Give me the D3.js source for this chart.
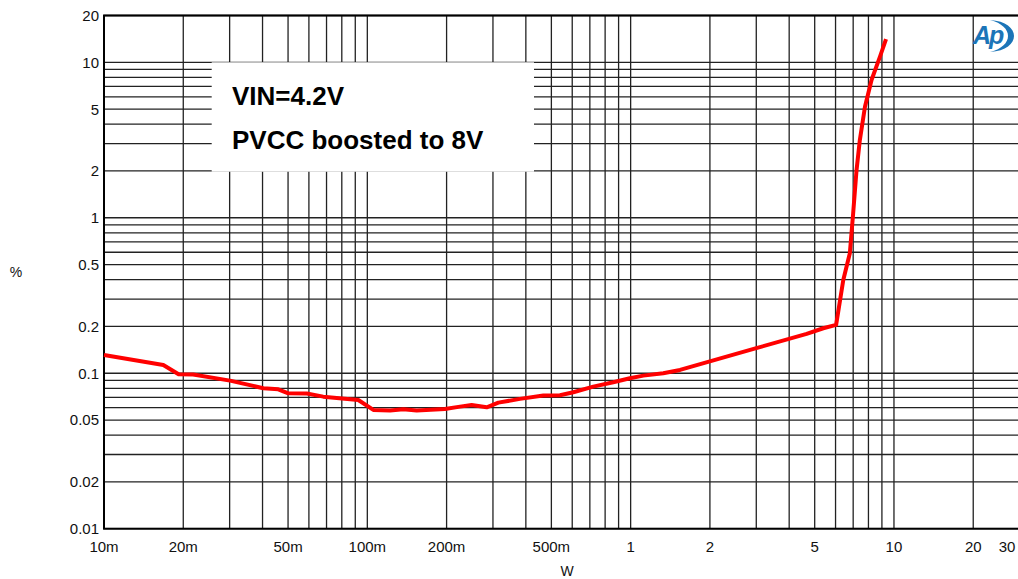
<!DOCTYPE html>
<html><head><meta charset="utf-8">
<script src="https://cdn.jsdelivr.net/npm/d3@7"></script>
<style>html,body{margin:0;padding:0;background:#fff;}svg{display:block;font-family:"Liberation Sans",Arial,sans-serif;}</style>
</head><body>
<svg id="chart" width="1018" height="579"></svg>
<script>
const powerW = [0.01,0.0168,0.0192,0.0218,0.0301,0.0403,0.0459,0.0501,0.0589,0.068,0.0924,0.1054,0.122,0.137,0.154,0.197,0.225,0.249,0.284,0.3145,0.38,0.466,0.539,0.606,0.721,0.859,0.993,1.117,1.33,1.54,3.0,4.66,5.39,6.03,6.42,6.80,7.0,7.21,7.42,7.76,8.22,8.85,9.33];
const thdPct = [0.131,0.113,0.0985,0.098,0.0896,0.0801,0.0788,0.0743,0.074,0.0707,0.0673,0.0581,0.0576,0.0587,0.0576,0.0589,0.061,0.0625,0.0604,0.0647,0.0684,0.0718,0.0722,0.0755,0.082,0.0875,0.0929,0.0965,0.1,0.105,0.145,0.179,0.1947,0.2045,0.398,0.592,1.07,2.03,3.16,5.18,7.69,10.87,14.1];
const xTickVals = [0.01,0.02,0.05,0.1,0.2,0.5,1,2,5,10,20,30];
const xTickLabels = ["10m","20m","50m","100m","200m","500m","1","2","5","10","20","30"];
const yTickVals = [20,10,5,2,1,0.5,0.2,0.1,0.05,0.02,0.01];
const yTickLabels = ["20","10","5","2","1","0.5","0.2","0.1","0.05","0.02","0.01"];
const annotLines = ["VIN=4.2V","PVCC boosted to 8V"];
const xTitle = "W", yTitle = "%";

const svg = d3.select("#chart");
const L = 104, R = 1019.6, T = 15.5, B = 528.7;
const x = d3.scaleLog().domain([0.01,30]).range([L,R]);
const y = d3.scaleLog().domain([0.01,20]).range([B,T]);

// grid values
const xGrid = [], yGrid = [];
for (const dec of [0.01,0.1,1]) for (let k=1;k<=9;k++){ xGrid.push(dec*k); }
xGrid.push(10,20,30);
for (const dec of [0.01,0.1,1]) for (let k=1;k<=9;k++){ yGrid.push(dec*k); }
yGrid.push(10,20);

const g = svg.append("g");
g.selectAll("line.vx").data(xGrid).join("line")
  .attr("x1",d=>x(d)).attr("x2",d=>x(d)).attr("y1",T).attr("y2",B)
  .attr("stroke","#222").attr("stroke-width",1.3);
g.selectAll("line.hy").data(yGrid).join("line")
  .attr("y1",d=>y(d)).attr("y2",d=>y(d)).attr("x1",L).attr("x2",R)
  .attr("stroke","#222").attr("stroke-width",1.3);

// annotation box
const bx = 211.7, by = 62.3, bw = 322.3, bh = 109.4;
svg.append("rect").attr("x",bx).attr("y",by).attr("width",bw).attr("height",bh).attr("fill","#fff");
svg.selectAll("text.ann").data(annotLines).join("text")
  .attr("x",232).attr("y",(d,i)=>105+i*44)
  .attr("font-size",26).attr("font-weight","bold").attr("fill","#000").text(d=>d);

// border
svg.append("rect").attr("x",L).attr("y",T).attr("width",R-L).attr("height",B-T)
  .attr("fill","none").attr("stroke","#000").attr("stroke-width",2);

// curve
const line = d3.line().x(d=>x(d[0])).y(d=>y(d[1]));
svg.append("path").datum(powerW.map((p,i)=>[p,thdPct[i]]))
  .attr("d",line).attr("fill","none").attr("stroke","#ff0000").attr("stroke-width",4)
  .attr("stroke-linejoin","round").attr("stroke-linecap","butt");

// y tick labels
svg.selectAll("text.yt").data(yTickVals).join("text")
  .attr("x",99).attr("y",d=>y(d)).attr("dy","0.36em").attr("text-anchor","end")
  .attr("font-size",15).attr("fill","#111").text((d,i)=>yTickLabels[i]);
// x tick labels
svg.selectAll("text.xt").data(xTickVals).join("text")
  .attr("x",d=>Math.min(x(d),1007)).attr("y",552).attr("text-anchor","middle")
  .attr("font-size",15).attr("fill","#111").text((d,i)=>xTickLabels[i]);

svg.append("text").attr("x",567).attr("y",576).attr("text-anchor","middle").attr("font-size",14).attr("fill","#111").text(xTitle);
svg.append("text").attr("x",16).attr("y",277).attr("text-anchor","middle").attr("font-size",14).attr("fill","#111").text(yTitle);

// AP logo
const logo = svg.append("g");
logo.append("text").attr("x",973).attr("y",44).attr("font-size",25).attr("font-style","italic").attr("font-weight","bold")
  .attr("fill","#1b75b8").attr("letter-spacing",-2).text("Ap");
logo.append("path").attr("d","M990,20 C1022,22 1022,50 990,52 C1014,46 1014,26 990,20 Z").attr("fill","#1b75b8");
</script>
</body></html>
